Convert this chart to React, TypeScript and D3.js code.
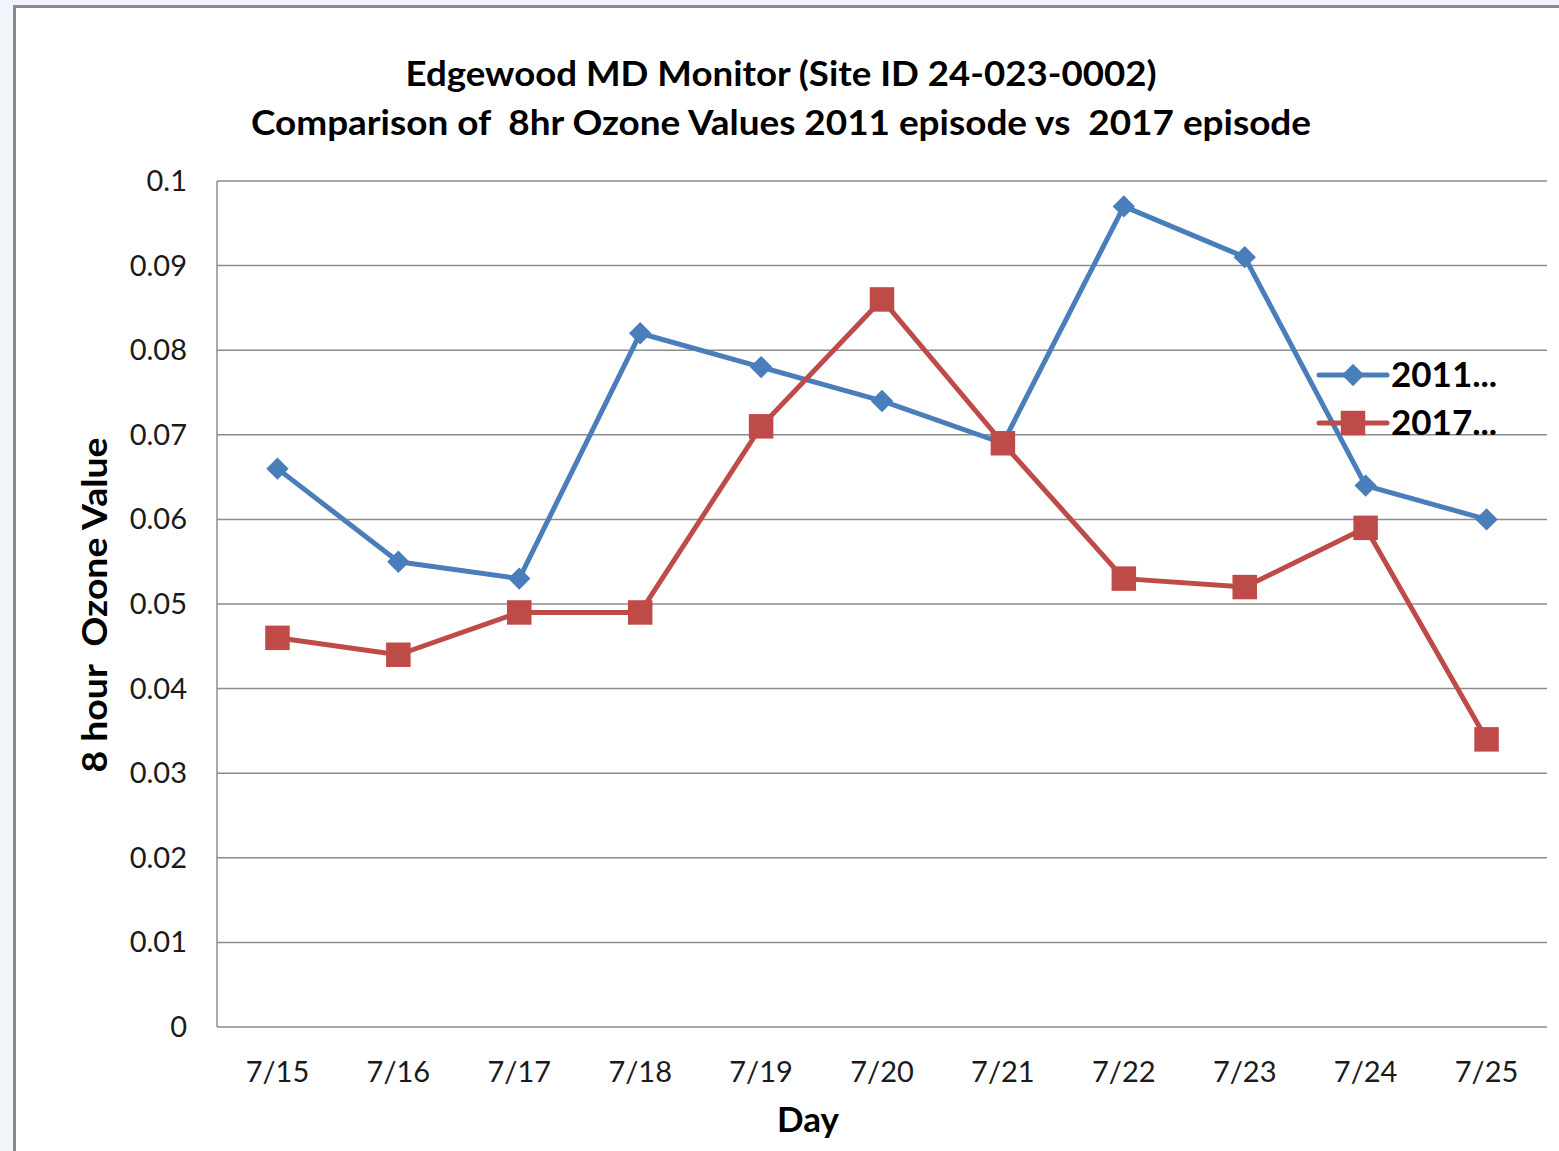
import React, { useEffect, useRef } from "react";
import * as d3 from "d3";

const days = ["7/15", "7/16", "7/17", "7/18", "7/19", "7/20", "7/21", "7/22", "7/23", "7/24", "7/25"];
const values2011 = [0.066, 0.055, 0.053, 0.082, 0.078, 0.074, 0.069, 0.097, 0.091, 0.064, 0.06];
const values2017 = [0.046, 0.044, 0.049, 0.049, 0.071, 0.086, 0.069, 0.053, 0.052, 0.059, 0.034];
const yTicks = [0, 0.01, 0.02, 0.03, 0.04, 0.05, 0.06, 0.07, 0.08, 0.09, 0.1];
const seriesNames = ["2011...", "2017..."];

const W = 1559;
const H = 1151;
const FONT = "Lato, 'Open Sans', sans-serif";

function App() {
  const ref = useRef<SVGSVGElement>(null);

  useEffect(() => {
    const svg = d3.select(ref.current);
    svg.selectAll("*").remove();

    svg.append("rect").attr("width", W).attr("height", H).attr("fill", "#f0f5fc");
    svg
      .append("rect")
      .attr("x", 14.5)
      .attr("y", 6.5)
      .attr("width", W + 20)
      .attr("height", H + 20)
      .attr("fill", "#fff")
      .attr("stroke", "#8a8a8a")
      .attr("stroke-width", 3);

    const left = 217;
    const right = 1547;
    const top = 181;
    const bottom = 1027;

    const x = d3.scaleBand<string>().domain(days).range([left, right]);
    const y = d3.scaleLinear().domain([0, 0.1]).range([bottom, top]);
    const cx = (d: string) => (x(d) as number) + x.bandwidth() / 2;

    const g = svg.append("g");

    g.selectAll("line.grid")
      .data(yTicks)
      .enter()
      .append("line")
      .attr("x1", left)
      .attr("x2", right)
      .attr("y1", d => y(d))
      .attr("y2", d => y(d))
      .attr("stroke", "#8c8c8c")
      .attr("stroke-width", 1.5);

    g.append("line")
      .attr("x1", left)
      .attr("x2", left)
      .attr("y1", top)
      .attr("y2", bottom)
      .attr("stroke", "#8c8c8c")
      .attr("stroke-width", 1.5);

    g.selectAll("text.ytick")
      .data(yTicks)
      .enter()
      .append("text")
      .attr("x", 187)
      .attr("y", d => y(d) + 10)
      .attr("text-anchor", "end")
      .attr("font-family", FONT)
      .attr("font-size", 29)
      .attr("fill", "#1a1a1a")
      .text(d => (d === 0 ? "0" : d3.format(".2~f")(d)));

    g.selectAll("text.xtick")
      .data(days)
      .enter()
      .append("text")
      .attr("x", d => cx(d))
      .attr("y", 1082)
      .attr("text-anchor", "middle")
      .attr("font-family", FONT)
      .attr("font-size", 29)
      .attr("fill", "#1a1a1a")
      .text(d => d);

    const titles = [
      { text: "Edgewood MD Monitor (Site ID 24-023-0002)", len: 751 },
      { text: "Comparison of  8hr Ozone Values 2011 episode vs  2017 episode", len: 1060 }
    ];
    g.selectAll("text.title")
      .data(titles)
      .enter()
      .append("text")
      .attr("x", 781)
      .attr("y", (d, i) => 86 + i * 49)
      .attr("text-anchor", "middle")
      .attr("font-family", FONT)
      .attr("font-weight", "bold")
      .attr("font-size", 35)
      .attr("fill", "#000")
      .attr("textLength", d => d.len)
      .attr("lengthAdjust", "spacingAndGlyphs")
      .style("white-space", "pre")
      .text(d => d.text);

    g.append("text")
      .attr("transform", "translate(107,605) rotate(-90)")
      .attr("text-anchor", "middle")
      .attr("font-family", FONT)
      .attr("font-weight", "bold")
      .attr("font-size", 35)
      .attr("textLength", 335)
      .attr("lengthAdjust", "spacingAndGlyphs")
      .style("white-space", "pre")
      .text("8 hour  Ozone Value");

    g.append("text")
      .attr("x", 808)
      .attr("y", 1132)
      .attr("text-anchor", "middle")
      .attr("font-family", FONT)
      .attr("font-weight", "bold")
      .attr("font-size", 35)
      .text("Day");

    const series = [
      { name: seriesNames[0], values: values2011, color: "#4a7ebb", shape: d3.symbolSquare, size: 250, rot: 45 },
      { name: seriesNames[1], values: values2017, color: "#be4b48", shape: d3.symbolSquare, size: 600, rot: 0 }
    ];

    const line = d3
      .line<number>()
      .x((d, i) => cx(days[i]))
      .y(d => y(d));

    series.forEach(s => {
      g.append("path")
        .datum(s.values)
        .attr("d", line)
        .attr("fill", "none")
        .attr("stroke", s.color)
        .attr("stroke-width", 5)
        .attr("stroke-linejoin", "round");
      const sym = d3.symbol().type(s.shape).size(s.size);
      g.selectAll(null)
        .data(s.values)
        .enter()
        .append("path")
        .attr("d", sym)
        .attr("transform", (d, i) => `translate(${cx(days[i])},${y(d)}) rotate(${s.rot})`)
        .attr("fill", s.color);
    });

    const legend = g.append("g");
    series.forEach((s, i) => {
      const ly = 375 + i * 48;
      legend
        .append("line")
        .attr("x1", 1319)
        .attr("x2", 1387)
        .attr("y1", ly)
        .attr("y2", ly)
        .attr("stroke", s.color)
        .attr("stroke-width", 5)
        .attr("stroke-linecap", "round");
      legend
        .append("path")
        .attr("d", d3.symbol().type(s.shape).size(s.size)())
        .attr("transform", `translate(1353,${ly}) rotate(${s.rot})`)
        .attr("fill", s.color);
      legend
        .append("text")
        .attr("x", 1391)
        .attr("y", ly + 12)
        .attr("font-family", FONT)
        .attr("font-weight", "bold")
        .attr("font-size", 35)
        .attr("fill", "#000")
        .text(s.name);
    });
  });

  return (
    <svg
      ref={ref}
      width={W}
      height={H}
      style={{ position: "absolute", left: 0, top: 0, display: "block" }}
    />
  );
}

export default App;
